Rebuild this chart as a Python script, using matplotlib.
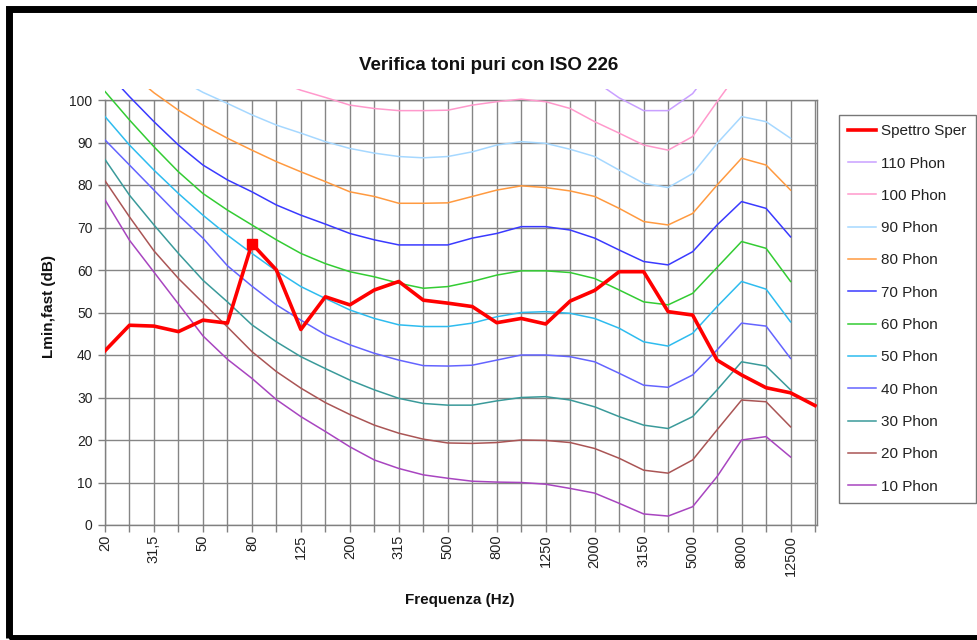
import matplotlib
matplotlib.use("Agg")
import matplotlib.pyplot as plt
from matplotlib.patches import Rectangle

plt.rcParams['font.family'] = ['Liberation Sans', 'DejaVu Sans']

# third-octave bands (Hz)
freqs = ["20", "25", "31,5", "40", "50", "63", "80", "100", "125", "160", "200", "250",
         "315", "400", "500", "630", "800", "1000", "1250", "1600", "2000", "2500",
         "3150", "4000", "5000", "6300", "8000", "10000", "12500", "16000"]
tick_labels = ["20", "31,5", "50", "80", "125", "200", "315", "500", "800", "1250",
               "2000", "3150", "5000", "8000", "12500"]

spettro = [41, 47, 46.8, 45.5, 48.2, 47.5, 66.2, 60, 46, 53.7, 51.8, 55.3, 57.3, 52.9,
           52.2, 51.4, 47.6, 48.6, 47.3, 52.7, 55.2, 59.6, 59.6, 50.2, 49.4, 38.8, 35.3,
           32.3, 31.1, 28.1]

phon_110 = [136, 131, 127, 123, 120, 118, 116, 114.5, 112.5, 111, 109.5, 108.5, 108, 108,
            108, 109, 110, 110, 110, 108, 104.5, 100.5, 97.5, 97.5, 101.5, 109, 116, 115, 111]
phon_100 = [128, 123, 118, 114, 111, 108.5, 106.5, 104.5, 102.3, 100.6, 98.8, 98, 97.5,
            97.5, 97.6, 98.8, 99.6, 100.2, 99.6, 98, 94.9, 92.2, 89.4, 88.2, 91.4, 99.6,
            107.5, 106.5, 105.5]
phon_90 = [118, 113, 109, 105, 101.8, 99.2, 96.5, 94.1, 92.2, 90.2, 88.6, 87.5, 86.7, 86.4,
           86.7, 87.8, 89.4, 90.2, 89.8, 88.4, 86.7, 83.5, 80.4, 79.4, 82.7, 89.8, 96.1,
           94.9, 91]
phon_80 = [112, 106.5, 101.7, 97.6, 94.1, 91, 88.2, 85.5, 83.1, 80.8, 78.4, 77.3, 75.7,
           75.7, 75.8, 77.3, 78.8, 79.8, 79.4, 78.6, 77.3, 74.5, 71.4, 70.6, 73.3, 80,
           86.3, 84.7, 78.8]
phon_70 = [107, 100.8, 94.9, 89.4, 84.7, 81.2, 78.4, 75.3, 72.9, 70.8, 68.6, 67.1, 65.9,
           65.9, 65.9, 67.5, 68.6, 70.2, 70.2, 69.4, 67.5, 64.7, 62, 61.2, 64.3, 70.6,
           76.1, 74.5, 67.8]
phon_60 = [102, 95.3, 89, 83.1, 78, 74.1, 70.6, 67.1, 63.9, 61.5, 59.6, 58.4, 56.9, 55.7,
           56.1, 57.3, 58.8, 59.8, 59.8, 59.4, 58, 55.3, 52.5, 51.8, 54.5, 60.6, 66.7,
           65.1, 57.3]
phon_50 = [96.1, 89.4, 83.5, 78, 72.9, 68.2, 63.9, 59.8, 56.1, 53.3, 50.6, 48.6, 47.1,
           46.7, 46.7, 47.5, 49, 50, 50.2, 49.8, 48.6, 46.3, 43.1, 42.1, 45.1, 51.4, 57.3,
           55.5, 47.8]
phon_40 = [90.6, 84.7, 78.8, 72.9, 67.5, 61, 56.2, 51.8, 48.2, 44.8, 42.4, 40.4, 38.8,
           37.5, 37.4, 37.6, 38.8, 40, 40, 39.6, 38.4, 35.7, 32.9, 32.4, 35.3, 41.2, 47.5,
           46.8, 39.2]
phon_30 = [86, 77.6, 70.6, 63.9, 57.6, 52.5, 47.1, 43.1, 39.6, 36.8, 34.1, 31.8, 29.8,
           28.6, 28.2, 28.2, 29.2, 30, 30.2, 29.4, 27.8, 25.5, 23.5, 22.7, 25.5, 31.8,
           38.4, 37.4, 31.8]
phon_20 = [81, 72.5, 64.5, 58, 52.3, 46.6, 40.8, 36.1, 32.2, 28.8, 26, 23.5, 21.6, 20.2,
           19.3, 19.2, 19.4, 20, 19.9, 19.4, 18, 15.7, 12.9, 12.2, 15.3, 22.4, 29.4, 29,
           23.1]
phon_10 = [76.5, 67, 59.5, 52, 44.5, 39, 34.5, 29.5, 25.5, 22, 18.4, 15.3, 13.3, 11.8, 11,
           10.3, 10.1, 10, 9.6, 8.6, 7.5, 5.1, 2.6, 2.1, 4.3, 11.4, 20, 20.8, 16]

phon_names = ["110 Phon", "100 Phon", "90 Phon", "80 Phon", "70 Phon", "60 Phon",
              "50 Phon", "40 Phon", "30 Phon", "20 Phon", "10 Phon"]
phon_series = [phon_110, phon_100, phon_90, phon_80, phon_70, phon_60, phon_50,
               phon_40, phon_30, phon_20, phon_10]
phon_colors = ["#c9a0ff", "#ff99cc", "#a6d8ff", "#ff9a40", "#3a3aff", "#33cc33",
               "#2ebcef", "#6464ff", "#3a9a9a", "#aa5555", "#a845c0"]

fig = plt.figure(figsize=(9.78, 6.4), dpi=100)
W, H = 978, 640
ax = fig.add_axes([105 / W, 115 / H, (817 - 105) / W, 425 / H])

x_all = list(range(len(freqs)))
clip_rect = Rectangle((0, 0), 1, 1.025, transform=ax.transAxes)

handles = []
for name, vals, col in zip(phon_names, phon_series, phon_colors):
    ln, = ax.plot(x_all[:len(vals)], vals, color=col, lw=1.1, label=name, zorder=3)
    ln.set_clip_path(clip_rect)
    handles.append(ln)

red, = ax.plot(x_all, spettro, color="#ff0000", lw=2.6, label="Spettro Sper", zorder=5,
               solid_joinstyle='round')
ax.plot([x_all[6]], [spettro[6]], marker='s', ms=7, color="#ff0000", ls='none', zorder=6)

ax.set_xlim(0, 29.08)
ax.set_ylim(0, 100)
ax.set_yticks(range(0, 101, 10))
ax.set_xticks(x_all)
ax.set_xticklabels([tick_labels[i // 2] if i % 2 == 0 else "" for i in x_all],
                   rotation=90)
ax.tick_params(axis='both', direction='out', length=5, color='#808080', width=1,
               labelsize=10, labelcolor='#222222')
ax.tick_params(axis='y', pad=4)
ax.tick_params(axis='x', pad=2, labelsize=10.5)
ax.grid(True, color='#858585', lw=1.0, zorder=1)
ax.set_axisbelow(True)
for s in ax.spines.values():
    s.set_color('#808080')
    s.set_linewidth(1.0)

leg = ax.legend([red] + handles, ["Spettro Sper"] + phon_names,
                loc='upper left', bbox_to_anchor=(839 / W, 1 - 115 / H),
                bbox_transform=fig.transFigure, frameon=True, fancybox=False,
                edgecolor='#555555', fontsize=11, handlelength=1.8, handletextpad=0.35,
                labelspacing=1.2, borderpad=0.6, borderaxespad=0)
leg.get_frame().set_linewidth(1.0)
for t in leg.get_texts():
    t.set_color('#222222')

fig.text(489 / W, 1 - 66 / H, "Verifica toni puri con ISO 226", ha='center', va='center',
         fontsize=13.5, fontweight='bold', color='#111111')
fig.text(460 / W, 1 - 600 / H, "Frequenza (Hz)", ha='center', va='center',
         fontsize=11, fontweight='bold', color='#111111')
fig.text(49 / W, 1 - 306 / H, "Lmin,fast (dB)", ha='center', va='center', rotation=90,
         fontsize=11, fontweight='bold', color='#111111')

border = Rectangle((8.5 / W, 2.5 / H), (990 - 8.5) / W, (637.5 - 9) / H,
                   transform=fig.transFigure, fill=False, edgecolor='black',
                   linewidth=5.0, clip_on=False)
fig.patches.append(border)

fig.savefig("out.png", dpi=100)
